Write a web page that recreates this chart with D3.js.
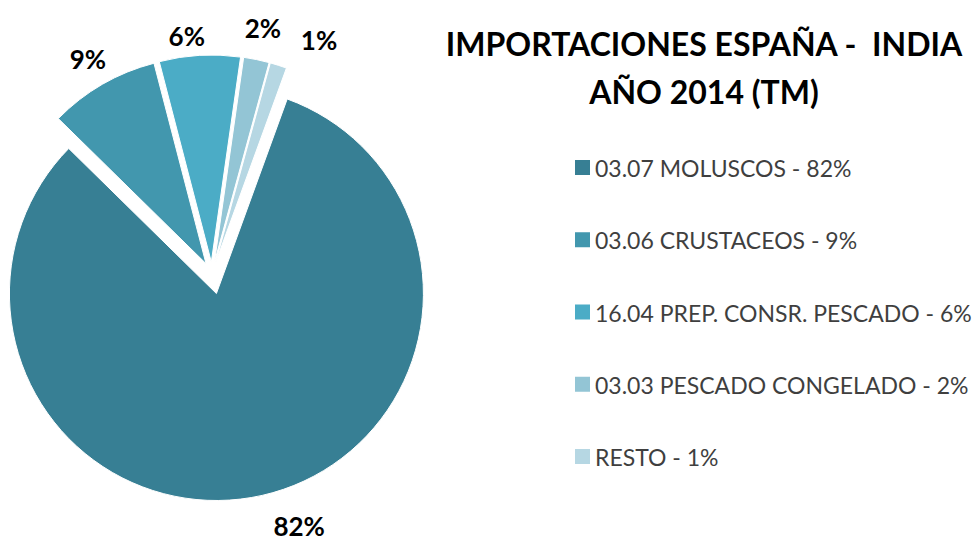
<!DOCTYPE html>
<html>
<head>
<meta charset="utf-8">
<script src="https://cdn.jsdelivr.net/npm/d3@7"></script>
<style>
  body { margin: 0; background: #fff; }
  text { font-family: Lato, "Open Sans", sans-serif; }
</style>
</head>
<body>
<svg id="chart"></svg>
<script>
// Data
var categories = ["03.07 MOLUSCOS", "03.06 CRUSTACEOS", "16.04 PREP. CONSR. PESCADO", "03.03 PESCADO CONGELADO", "RESTO"];
var values = [81.8, 8.6, 6.3, 2.0, 1.3];
var percentLabels = ["82%", "9%", "6%", "2%", "1%"];
var colors = ["#377f94", "#4297ae", "#4bacc6", "#93c5d5", "#b6d7e3"];
var titleLines = ["IMPORTACIONES ESPAÑA -  INDIA", "AÑO 2014 (TM)"];

//Canvas
var svg = d3.select("#chart");
svg.width = 973;
svg.height = 545;
svg.attr("width", svg.width).attr("height", svg.height);

var cx = 212, cy = 274, R = 207;
var explode = [20, 12, 12, 12, 12];
// Excel moves some labels sideways to keep them apart (degrees, radius)
var labelShift = [-6.8, 0, -3, 0, 7.3];
var labelR = [267, 248, 239, 251, 257];

var toRad = Math.PI / 180;
var pie = d3.pie().sort(null)
    .startAngle(20 * toRad)
    .endAngle(20 * toRad + 2 * Math.PI);
var arcs = pie(values);
var arc = d3.arc().innerRadius(0).outerRadius(R);

function mid(d) { return (d.startAngle + d.endAngle) / 2; }

var pieG = svg.append("g").attr("transform", "translate(" + cx + "," + cy + ")");

pieG.selectAll(".slice")
    .data(arcs)
    .enter().append("path")
    .attr("class", "slice")
    .attr("d", arc)
    .attr("transform", function(d, i) {
        var a = mid(d);
        return "translate(" + (explode[i] * Math.sin(a)) + "," + (-explode[i] * Math.cos(a)) + ")";
    })
    .style("fill", function(d, i) { return colors[i]; })
    .style("stroke", "#fff")
    .style("stroke-width", 1);

pieG.selectAll(".pctLabel")
    .data(arcs)
    .enter().append("text")
    .attr("class", "pctLabel")
    .attr("text-anchor", "middle")
    .attr("dominant-baseline", "central")
    .attr("x", function(d, i) {
        var a = mid(d);
        var b = a + labelShift[i] * toRad;
        return explode[i] * Math.sin(a) + (labelR[i] - explode[i]) * Math.sin(b);
    })
    .attr("y", function(d, i) {
        var a = mid(d);
        var b = a + labelShift[i] * toRad;
        return -explode[i] * Math.cos(a) - (labelR[i] - explode[i]) * Math.cos(b);
    })
    .style("font-size", "26px")
    .style("font-weight", "bold")
    .style("fill", "#000")
    .text(function(d, i) { return percentLabels[i]; });

// Title
svg.selectAll(".title")
    .data(titleLines)
    .enter().append("text")
    .attr("class", "title")
    .attr("text-anchor", "middle")
    .attr("x", 704)
    .attr("y", function(d, i) { return 56 + i * 48; })
    .style("font-size", "32px")
    .style("font-weight", "bold")
    .style("white-space", "pre")
    .style("fill", "#000")
    .text(function(d) { return d; });

// Legend
var legendY = d3.scalePoint().domain(categories).range([168, 457]);
var legend = svg.selectAll(".legendItem")
    .data(categories)
    .enter().append("g")
    .attr("class", "legendItem")
    .attr("transform", function(d) { return "translate(575," + legendY(d) + ")"; });

legend.append("rect")
    .attr("x", 0).attr("y", -8)
    .attr("width", 15).attr("height", 15)
    .style("fill", function(d, i) { return colors[i]; });

legend.append("text")
    .attr("x", 20)
    .attr("y", 0)
    .attr("dominant-baseline", "central")
    .style("font-size", "23px")
    .style("fill", "#3f3f3f")
    .text(function(d, i) { return d + " - " + percentLabels[i]; });
</script>
</body>
</html>
